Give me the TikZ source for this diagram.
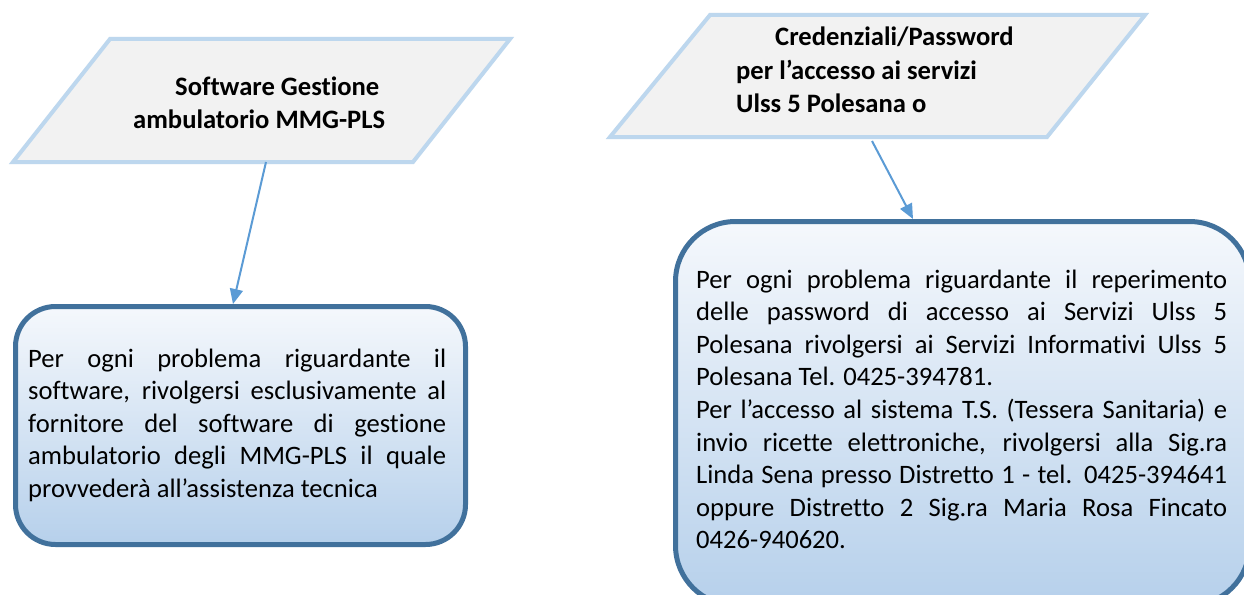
\documentclass[tikz,border=0pt]{standalone}
\usepackage{fontspec}
\setmainfont{Carlito}[RawFeature={-liga;-clig;-dlig;-calt;-hlig}]
\usetikzlibrary{arrows.meta}
\definecolor{parafill}{HTML}{F2F2F2}
\definecolor{paraline}{HTML}{BDD7EE}
\definecolor{boxline}{HTML}{41719C}
\definecolor{arrowc}{HTML}{5B9BD5}
\definecolor{gradtop}{HTML}{F5F8FC}
\definecolor{gradbot}{HTML}{B6D0EB}
\begin{document}
\begin{tikzpicture}[x=1pt,y=-1pt,
  para/.style={fill=parafill, draw=paraline, line width=4pt, line join=miter},
  infobox/.style={draw=boxline, line width=5pt, top color=gradtop, bottom color=gradbot, inner sep=0pt, anchor=north west},
  conn/.style={draw=arrowc, line width=2pt, -{Triangle[length=15pt,width=13pt]}},
  headline/.style={font=\fontsize{26.6}{32.6}\selectfont\bfseries, inner sep=0pt, anchor=base west},
  bodyline/.style={font=\fontsize{26.6}{32.6}\selectfont, inner sep=0pt, anchor=base west}]
\useasboundingbox (0,0) rectangle (1244,594);
\clip (0,0) rectangle (1244,594);
\fill[white] (0,0) rectangle (1244,594);

% parallelograms
\path[para] (110,39) -- (510,39) -- (413,162) -- (13,162) -- cycle;
\path[para] (710,15) -- (1145,15) -- (1047,137) -- (610,137) -- cycle;
\coordinate (lpout) at (266,162);
\coordinate (rpout) at (872,141);

% header texts
\node[headline] (lh1) at (175,95) {Software Gestione};
\node[headline] (lh2) at (133,128) {ambulatorio MMG-PLS};
\node[headline] (rh1) at (775,46) {Credenziali/Password};
\node[headline] (rh2) at (736,79) {per l’accesso ai servizi};
\node[headline] (rh3) at (736,112) {Ulss 5 Polesana o};

% info boxes
\node[infobox, rounded corners=40pt, minimum width=450pt, minimum height=238pt] (lbox) at (13,304) {};
\node[infobox, rounded corners=60pt, minimum width=574pt, minimum height=384pt] (rbox) at (673,219) {};
\coordinate (lbin) at (233,304);
\coordinate (rbin) at (913,219);

% connectors
\draw[conn] (lpout) -- (lbin);
\draw[conn] (rpout) -- (rbin);

% left body text
\node[bodyline] (lt1) at (28,367) {\makebox[418pt][s]{Per ogni problema riguardante il}};
\node[bodyline] (lt2) at (28,399.5) {\makebox[418pt][s]{software, rivolgersi esclusivamente al}};
\node[bodyline] (lt3) at (28,432) {\makebox[418pt][s]{fornitore del software di gestione}};
\node[bodyline] (lt4) at (28,464.5) {\makebox[418pt][s]{ambulatorio degli MMG-PLS il quale}};
\node[bodyline] (lt5) at (28,497) {provvederà all’assistenza tecnica};

% right body text
\node[bodyline] (rt1) at (696,288) {\makebox[531pt][s]{Per ogni problema riguardante il reperimento}};
\node[bodyline] (rt2) at (696,320.6) {\makebox[531pt][s]{delle password di accesso ai Servizi Ulss 5}};
\node[bodyline] (rt3) at (696,353.2) {\makebox[531pt][s]{Polesana rivolgersi ai Servizi Informativi Ulss 5}};
\node[bodyline] (rt4) at (696,385.8) {Polesana Tel. 0425-394781.};
\node[bodyline] (rt5) at (696,418.4) {\makebox[531pt][s]{Per l’accesso al sistema T.S. (Tessera Sanitaria) e}};
\node[bodyline] (rt6) at (696,451) {\makebox[531pt][s]{invio ricette elettroniche, rivolgersi alla Sig.ra}};
\node[bodyline] (rt7) at (696,483.6) {\makebox[531pt][s]{Linda Sena presso Distretto 1 - tel. 0425-394641}};
\node[bodyline] (rt8) at (696,516.2) {\makebox[531pt][s]{oppure Distretto 2 Sig.ra Maria Rosa Fincato}};
\node[bodyline] (rt9) at (696,548.8) {0426-940620.};
\end{tikzpicture}
\end{document}
